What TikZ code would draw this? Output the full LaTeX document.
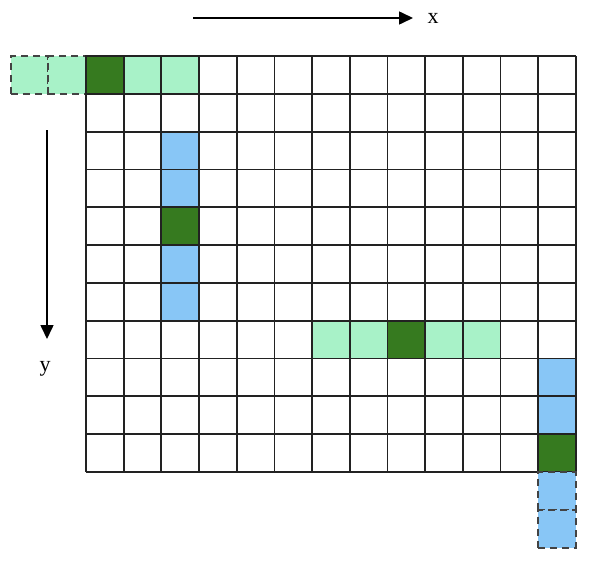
\documentclass[tikz,border=0pt]{standalone}
\usepackage{fontspec}
\setmainfont{Liberation Serif}
\usetikzlibrary{arrows.meta}
\definecolor{lg}{HTML}{A8F2C8}
\definecolor{dg}{HTML}{367A1F}
\definecolor{bl}{HTML}{88C6F6}
\definecolor{ln}{HTML}{222222}
\newcommand\cc[2]{({86+(#1+0.5)*37.69},{56+(#2+0.5)*37.82})}
\begin{document}
\begin{tikzpicture}[x=1pt,y=-1pt,
  gridline/.style={draw=ln, line width=1.8pt},
  cell/.style={minimum width=37.69pt, minimum height=37.82pt, inner sep=0pt, outer sep=0pt, draw=ln, line width=1.8pt},
  dcell/.style={cell, draw=ln!85, dash pattern=on 7pt off 5pt},
  axis/.style={draw=black, line width=1.6pt, -{Triangle[length=14pt,width=13pt]}},
  lbl/.style={font=\fontsize{22}{24}\selectfont, inner sep=0pt}]
\useasboundingbox (0,0) rectangle (600,562);
\fill[white] (0,0) rectangle (600,562);
\def\cw{37.69}
\def\ch{37.82}
% grid
\foreach \i in {0,...,13} \draw[gridline] ({86+\i*\cw},56) -- ({86+\i*\cw},{56+11*\ch});
\foreach \j in {0,...,11} \draw[gridline] (86,{56+\j*\ch}) -- ({86+13*\cw},{56+\j*\ch});
% row 0
\node[dcell, fill=lg] (dl2) at \cc{-2}{0} {};
\node[dcell, fill=lg] (dl1) at \cc{-1}{0} {};
\node[cell, fill=dg] (a0) at \cc{0}{0} {};
\node[cell, fill=lg] (a1) at \cc{1}{0} {};
\node[cell, fill=lg] (a2) at \cc{2}{0} {};
% column 2
\node[cell, fill=bl] (b2) at \cc{2}{2} {};
\node[cell, fill=bl] (b3) at \cc{2}{3} {};
\node[cell, fill=dg] (b4) at \cc{2}{4} {};
\node[cell, fill=bl] (b5) at \cc{2}{5} {};
\node[cell, fill=bl] (b6) at \cc{2}{6} {};
% row 7
\node[cell, fill=lg] (r6) at \cc{6}{7} {};
\node[cell, fill=lg] (r7) at \cc{7}{7} {};
\node[cell, fill=dg] (r8) at \cc{8}{7} {};
\node[cell, fill=lg] (r9) at \cc{9}{7} {};
\node[cell, fill=lg] (r10) at \cc{10}{7} {};
% column 12
\node[cell, fill=bl] (e8) at \cc{12}{8} {};
\node[cell, fill=bl] (e9) at \cc{12}{9} {};
\node[cell, fill=dg] (e10) at \cc{12}{10} {};
\node[dcell, fill=bl] (e11) at \cc{12}{11} {};
\node[dcell, fill=bl] (e12) at \cc{12}{12} {};
% axes
\coordinate (xs) at (193,18);
\coordinate (xe) at (413,18);
\coordinate (ys) at (47,130);
\coordinate (ye) at (47,339);
\draw[axis] (xs) -- (xe);
\draw[axis] (ys) -- (ye);
\node[lbl] (xl) at (433,18) {x};
\node[lbl] (yl) at (45,369) {y};
\end{tikzpicture}
\end{document}
